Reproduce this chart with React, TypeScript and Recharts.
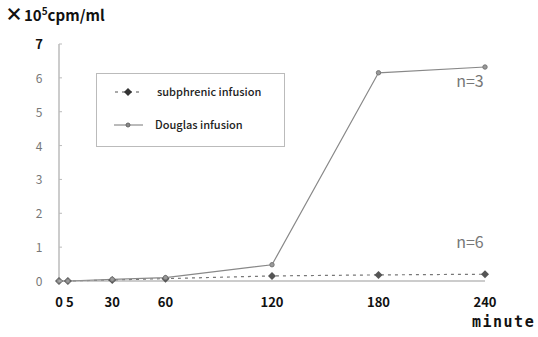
import React from 'react';
import { LineChart, Line, XAxis, YAxis, ReferenceDot } from 'recharts';

const minutes = [0, 5, 30, 60, 120, 180, 240];
const subphrenic = [0, 0, 0.03, 0.07, 0.15, 0.18, 0.2];
const douglas = [0, 0, 0.05, 0.1, 0.48, 6.15, 6.32];
const xTicks = [0, 5, 30, 60, 120, 180, 240];
const yTicks = [0, 1, 2, 3, 4, 5, 6, 7];

const data = minutes.map((m, i) => ({ m, subphrenic: subphrenic[i], douglas: douglas[i] }));

const FONT = '"Noto Sans CJK JP", "DejaVu Sans", sans-serif';

const XTick = (props: any) => {
  const { x, y, payload } = props;
  const dx = payload.value === 5 ? 2 : 0;
  return (
    <text x={x + dx} y={y} dy={18} textAnchor="middle" fontFamily={FONT} fontWeight={700} fontSize={13} fill="#111">
      {payload.value}
    </text>
  );
};

const YTick = (props: any) => {
  const { x, y, payload } = props;
  const top = payload.value === 7;
  return (
    <g>
      <line x1={59} x2={62} y1={y} y2={y} stroke="#bbb" strokeWidth={1} />
      <text x={x - 12} y={y} dy={5} textAnchor="middle" fontFamily={FONT} fontWeight={top ? 700 : 400} fontSize={top ? 13 : 12} fill={top ? '#111' : '#777'}>
        {payload.value}
      </text>
    </g>
  );
};

const Diamond = (props: any) => {
  const { cx, cy } = props;
  if (cx == null || cy == null) return null;
  return <path d={`M${cx},${cy - 4} L${cx + 4},${cy} L${cx},${cy + 4} L${cx - 4},${cy} Z`} fill="#555" />;
};

const SmallCircle = (props: any) => {
  const { cx, cy } = props;
  if (cx == null || cy == null) return null;
  return <circle cx={cx} cy={cy} r={2.2} fill="#999" stroke="#777" />;
};

const LegendBox = () => (
  <svg width={190} height={75} style={{ position: 'absolute', left: 96, top: 73, display: 'block' }}>
    <rect x={0.5} y={0.5} width={188} height={73} fill="#fff" stroke="#bbb" strokeWidth={1} />
    <line x1={19} x2={46} y1={19} y2={19} stroke="#555" strokeDasharray="3 4" strokeWidth={1.2} />
    <path d="M32,15 L36,19 L32,23 L28,19 Z" fill="#333" />
    <text x={61} y={23} fontFamily={FONT} fontSize={11} fontWeight={500} fill="#222">subphrenic infusion</text>
    <line x1={18} x2={47} y1={52} y2={52} stroke="#777" strokeWidth={1} />
    <circle cx={32} cy={52} r={2} fill="#888" stroke="#666" />
    <text x={59} y={56} fontFamily={FONT} fontSize={11} fontWeight={500} fill="#222">Douglas infusion</text>
  </svg>
);

const NLabel = (text: string, dx: number, dy: number) => (props: any) => {
  const { viewBox } = props;
  const cx = viewBox.x + viewBox.width / 2;
  const cy = viewBox.y + viewBox.height / 2;
  return (
    <text x={cx + dx} y={cy + dy} textAnchor="middle" fontFamily={FONT} fontSize={16} fill="#777">
      {text}
    </text>
  );
};

export default function App() {
  return (
    <div style={{ position: 'absolute', left: 0, top: 0, width: 538, height: 337, background: '#fff' }}>
      <LineChart width={538} height={337} data={data} margin={{ top: 44, right: 53, bottom: 26, left: 0 }}>
        <XAxis
          dataKey="m"
          type="number"
          domain={[0, 240]}
          ticks={xTicks}
          tick={<XTick />}
          tickLine={false}
          axisLine={{ stroke: '#999' }}
          height={30}
          interval={0}
        />
        <YAxis
          type="number"
          domain={[0, 7]}
          ticks={yTicks}
          tick={<YTick />}
          tickLine={false}
          axisLine={{ stroke: '#999' }}
          width={59}
          interval={0}
        />
        <Line
          dataKey="subphrenic"
          stroke="#777"
          strokeWidth={1.2}
          strokeDasharray="3 4"
          dot={<Diamond />}
          isAnimationActive={false}
        />
        <Line
          dataKey="douglas"
          stroke="#888"
          strokeWidth={1.2}
          dot={<SmallCircle />}
          isAnimationActive={false}
        />
        <ReferenceDot x={240} y={6.32} r={0} label={NLabel('n=3', -15, 20)} />
        <ReferenceDot x={240} y={0.2} r={0} label={NLabel('n=6', -15, -26)} />
        <text x={5} y={21} fontFamily={FONT} fontWeight={700} fontSize={15} fill="#111">
          <tspan fontSize={18} fontWeight={900}>×</tspan><tspan dx={1}>10</tspan><tspan dy={-6} fontSize={10}>5</tspan><tspan dy={6}>cpm/ml</tspan>
        </text>
        <text x={472} y={327} fontFamily='"DejaVu Sans Mono", monospace' fontWeight={700} fontSize={15} letterSpacing={1.5} fill="#111">
          minute
        </text>
      </LineChart>
      <LegendBox />
    </div>
  );
}
